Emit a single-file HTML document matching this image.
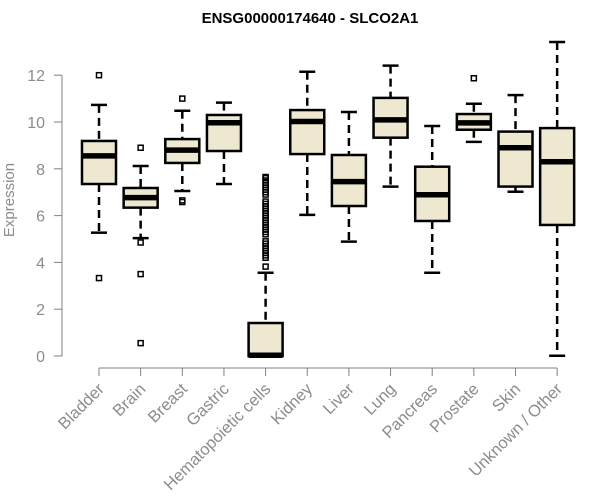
<!DOCTYPE html>
<html><head><meta charset="utf-8"><style>
body{margin:0;background:#fff;}
svg{display:block;font-family:"Liberation Sans",Arial,sans-serif;}
</style></head><body>
<svg id="chart" width="600" height="500" viewBox="0 0 600 500">
<text x="310" y="23" text-anchor="middle" font-size="15" font-weight="bold" fill="#000">ENSG00000174640 - SLCO2A1</text>
<text transform="translate(14,200) rotate(-90)" text-anchor="middle" font-size="15" fill="#8c8c8c">Expression</text>
<g id="yaxis"></g>
<g id="xaxis"></g>
<g id="boxes"></g>
</svg>
<script>
const categories=["Bladder","Brain","Breast","Gastric","Hematopoietic cells","Kidney","Liver","Lung","Pancreas","Prostate","Skin","Unknown / Other"];
const lowerWhisker=[5.27,5.04,7.05,7.35,0,6.03,4.89,7.24,3.56,9.15,7.02,0.01];
const q1=[7.35,6.34,8.25,8.76,0,8.63,6.41,9.33,5.77,9.67,7.24,5.6];
const medians=[8.55,6.77,8.8,9.97,0.03,10.02,7.45,10.09,6.89,9.96,8.9,8.3];
const q3=[9.19,7.18,9.27,10.3,1.41,10.51,8.59,11.03,8.09,10.34,9.59,9.74];
const upperWhisker=[10.73,8.12,10.48,10.83,3.56,12.15,10.43,12.41,9.83,10.78,11.15,13.42];
const outliers=[[12.0,3.33],[8.9,4.85,3.5,0.55],[11.0,6.65,6.58],[],
[3.82,4.2,4.3,4.4,4.5,4.6,4.7,4.8,4.9,5.2,5.3,5.4,5.5,5.6,5.7,5.8,5.9,6.0,6.1,6.2,6.3,6.4,6.5,6.6,6.9,7.0,7.1,7.2,7.3,7.4,7.5,7.6,7.65],
[],[],[],[],[11.87],[],[]];
const yTicks=[0,2,4,6,8,10,12];

const NS="http://www.w3.org/2000/svg";
const y=v=>356-v*23.4;
const x=i=>99+i*41.65;
function mk(tag,attrs,parent){const e=document.createElementNS(NS,tag);for(const k in attrs)e.setAttribute(k,attrs[k]);parent.appendChild(e);return e;}
const ya=document.getElementById('yaxis'),xa=document.getElementById('xaxis'),bx=document.getElementById('boxes');
let l=mk('line',{x1:62,x2:62,y1:y(0),y2:y(12),stroke:'#808080','stroke-width':1},ya);


yTicks.forEach(t=>{
  const tk=mk('line',{x1:54,x2:62,y1:y(t),y2:y(t),stroke:'#808080'},ya);
  
  
  const tx=mk('text',{x:45,y:y(t)+6,'text-anchor':'end','font-size':16,fill:'#8c8c8c'},ya);
  tx.textContent=t;
  
  
});
l=mk('line',{x1:x(0),x2:x(categories.length-1),y1:368,y2:368,stroke:'#808080'},xa);


categories.forEach((c,i)=>{
  const tk=mk('line',{x1:x(i),x2:x(i),y1:368,y2:376,stroke:'#808080'},xa);
  
  
  const tx=mk('text',{transform:`translate(${x(i)+6},390) rotate(-45)`,'text-anchor':'end','font-size':16.5,fill:'#8c8c8c'},xa);
  tx.textContent=c;
  
  
});
const hw=17,cw=8;
categories.forEach((c,i)=>{
  const g=mk('g',{},bx);
  
  
  const cx=x(i);
  mk('line',{x1:cx,x2:cx,y1:y(upperWhisker[i]),y2:y(q3[i]),stroke:'#000','stroke-width':2.5,'stroke-dasharray':'8,5'},g);
  mk('line',{x1:cx,x2:cx,y1:y(q1[i]),y2:y(lowerWhisker[i]),stroke:'#000','stroke-width':2.5,'stroke-dasharray':'8,5'},g);
  mk('line',{x1:cx-cw,x2:cx+cw,y1:y(upperWhisker[i]),y2:y(upperWhisker[i]),stroke:'#000','stroke-width':2.5},g);
  mk('line',{x1:cx-cw,x2:cx+cw,y1:y(lowerWhisker[i]),y2:y(lowerWhisker[i]),stroke:'#000','stroke-width':2.5},g);
  mk('rect',{x:cx-hw,y:y(q3[i]),width:hw*2,height:Math.max(1,y(q1[i])-y(q3[i])),fill:'#ede8cf',stroke:'#000','stroke-width':2.5},g);
  mk('line',{x1:cx-hw,x2:cx+hw,y1:y(medians[i]),y2:y(medians[i]),stroke:'#000','stroke-width':5.5},g);
  outliers[i].forEach(v=>{
    const o=mk('rect',{x:cx-2.5,y:y(v)-2.5,width:5,height:5,fill:'none',stroke:'#000','stroke-width':1.5},g);
    
    
  });
});
</script>
</body></html>
